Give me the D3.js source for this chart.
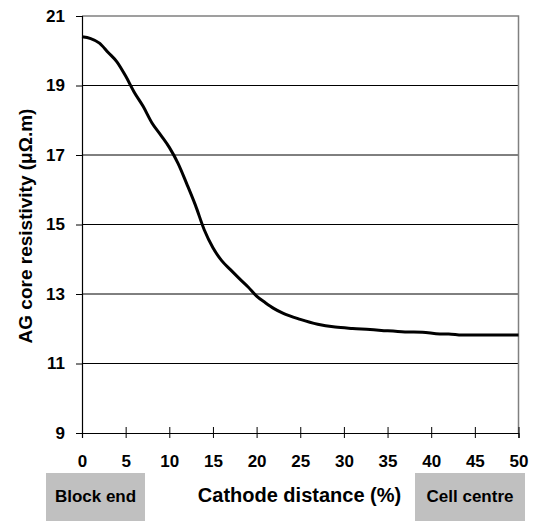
<!DOCTYPE html>
<html>
<head>
<meta charset="utf-8">
<script src="https://cdn.jsdelivr.net/npm/d3@7"></script>
<style>
	body { margin: 0; background: #fff; }
	text { font-family: "Liberation Sans", Arial, sans-serif; font-weight: bold; fill: #000; }
</style>
</head>
<body>
<script>
// Cathode distance (%) and AG core resistivity (µΩ.m)
const distance = [0, 1, 2, 3, 4, 5, 6, 7, 8, 9, 10, 11, 12, 13, 14, 15, 16, 17, 18, 19, 20,
	21, 22, 23, 25, 27, 29, 31, 33, 35, 37, 39, 41, 42, 43.5, 50];
const resistivity = [20.40, 20.35, 20.22, 19.95, 19.68, 19.27, 18.80, 18.40, 17.93, 17.58, 17.22,
	16.76, 16.17, 15.55, 14.85, 14.33, 13.96, 13.70, 13.45, 13.21, 12.94,
	12.75, 12.58, 12.45, 12.27, 12.13, 12.05, 12.01, 11.98, 11.94, 11.91, 11.90, 11.85, 11.85, 11.82, 11.82];
const xTicks = [0, 5, 10, 15, 20, 25, 30, 35, 40, 45, 50];
const yTicks = [9, 11, 13, 15, 17, 19, 21];
const regionLabels = ["Block end", "Cell centre"];

const width = 534, height = 521;
const margin = {top: 16, right: 15.5, bottom: 88, left: 82};
const w = width - margin.left - margin.right;
const h = height - margin.top - margin.bottom;

const svg = d3.select("body")
	.append("svg")
	.attr("width", width)
	.attr("height", height);

const g = svg.append("g")
	.attr("transform", `translate(${margin.left},${margin.top})`);

const x = d3.scaleLinear().domain([0, 50]).range([0, w]);
const y = d3.scaleLinear().domain([9, 21]).range([h, 0]);

// gridlines
g.selectAll("line.grid")
	.data(yTicks.filter(t => t > 9 && t < 21))
	.join("line")
	.attr("class", "grid")
	.attr("x1", 0).attr("x2", w)
	.attr("y1", d => y(d)).attr("y2", d => y(d))
	.attr("stroke", "#000")
	.attr("stroke-width", 1);

// top and right border (grey)
g.append("path")
	.attr("d", `M0,${y(21)}H${w}V${h}`)
	.attr("fill", "none")
	.attr("stroke", "#808080")
	.attr("stroke-width", 1.5);

// y axis
const yAxis = g.append("g")
	.call(d3.axisLeft(y).tickValues(yTicks).tickSize(6).tickPadding(11));
yAxis.select(".domain").attr("stroke", "#000").attr("stroke-width", 1.2);
yAxis.selectAll(".tick line").attr("stroke", "#000");
yAxis.selectAll("text")
	.style("font-family", "Liberation Sans, Arial, sans-serif")
	.style("font-weight", "bold")
	.style("font-size", "17px");

// x axis, ticks cross the axis line
const xAxis = g.append("g")
	.attr("transform", `translate(0,${h})`)
	.call(d3.axisBottom(x).tickValues(xTicks).tickSize(5));
xAxis.select(".domain").attr("stroke", "#000").attr("stroke-width", 1.2);
xAxis.selectAll(".tick line").attr("y1", -6).attr("stroke", "#000");
xAxis.selectAll("text")
	.attr("y", 34).attr("dy", null)
	.style("font-family", "Liberation Sans, Arial, sans-serif")
	.style("font-weight", "bold")
	.style("font-size", "17px");

// the curve
const line = d3.line()
	.x((d, i) => x(distance[i]))
	.y(d => y(d))
	.curve(d3.curveMonotoneX);

g.append("path")
	.datum(resistivity)
	.attr("d", line)
	.attr("fill", "none")
	.attr("stroke", "#000")
	.attr("stroke-width", 3)
	.attr("stroke-linejoin", "round");

// axis titles
svg.append("text")
	.attr("transform", `translate(32,226) rotate(-90)`)
	.attr("text-anchor", "middle")
	.style("font-size", "19px")
	.text("AG core resistivity (μΩ.m)");

svg.append("text")
	.attr("x", 299.5)
	.attr("y", 502)
	.attr("text-anchor", "middle")
	.style("font-size", "20px")
	.text("Cathode distance (%)");

// grey region boxes under the axis
const boxes = [
	{label: regionLabels[0], x0: 46, x1: 145},
	{label: regionLabels[1], x0: 415, x1: 525}
];
const bx = svg.selectAll("g.box")
	.data(boxes)
	.join("g")
	.attr("class", "box");
bx.append("rect")
	.attr("x", d => d.x0)
	.attr("y", 473)
	.attr("width", d => d.x1 - d.x0)
	.attr("height", 48)
	.attr("fill", "#c0c0c0");
bx.append("text")
	.attr("x", d => (d.x0 + d.x1) / 2)
	.attr("y", 502)
	.attr("text-anchor", "middle")
	.style("font-size", "17px")
	.text(d => d.label);
</script>
</body>
</html>
